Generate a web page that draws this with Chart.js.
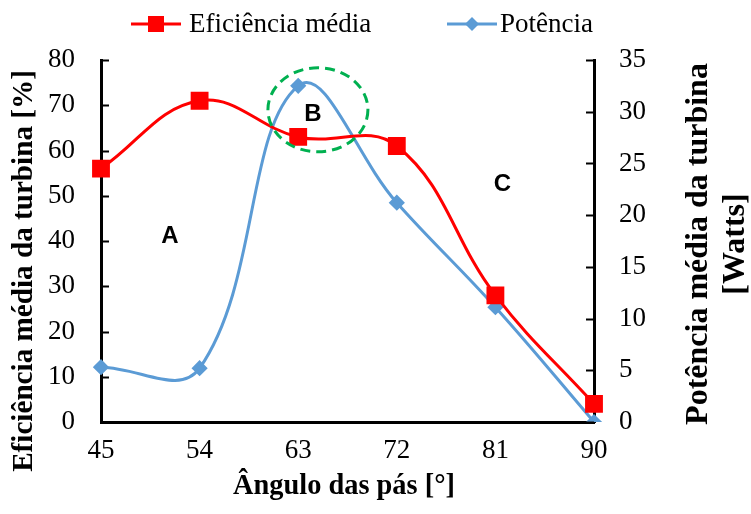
<!DOCTYPE html>
<html>
<head>
<meta charset="utf-8">
<script src="https://cdn.jsdelivr.net/npm/chart.js@4"></script>
<style>
  html, body { margin: 0; padding: 0; background: #fff; }
  canvas { display: block; }
</style>
</head>
<body>
<canvas id="chart" width="751" height="514"></canvas>
<script>
const angles = ["45", "54", "63", "72", "81", "90"];
const efficiency = [56, 71, 63, 61, 28, 4];
const power = [5.3, 5.2, 32.5, 21.2, 11.1, 0];
const seriesNames = ["Eficiência média", "Potência"];
const xTitle = "Ângulo das pás [°]";
const leftTitle = "Eficiência média da turbina [%]";
const rightTitle = ["Potência média da turbina", "[Watts]"];
const regionLabels = [
  { text: "A", x: 0.70, y: 41 },
  { text: "B", x: 2.15, y: 68 },
  { text: "C", x: 4.07, y: 52.6 }
];

const serif = "'Liberation Serif', 'Times New Roman', serif";
const red = "#ff0000";
const blue = "#5b9bd5";

// font size that makes the text about as long as in the original picture
function fitSize(ctx, text, weight, target) {
  ctx.font = weight + " 20px " + serif;
  return 20 * target / ctx.measureText(text).width;
}

// inward tick marks, axis titles, legend and the A/B/C notes
const extras = {
  id: "extras",
  afterDatasetsDraw(chart) {
    const ctx = chart.ctx;
    const area = chart.chartArea;
    const x = chart.scales.x, y = chart.scales.y, y1 = chart.scales.y1;
    ctx.save();
    ctx.strokeStyle = "#000";
    ctx.lineWidth = 2;
    y.ticks.forEach(t => {
      const py = Math.round(y.getPixelForValue(t.value)) + 0.5;
      ctx.beginPath(); ctx.moveTo(area.left, py); ctx.lineTo(area.left + 8, py); ctx.stroke();
    });
    y1.ticks.forEach(t => {
      const py = Math.round(y1.getPixelForValue(t.value)) + 0.5;
      ctx.beginPath(); ctx.moveTo(area.right, py); ctx.lineTo(area.right - 8, py); ctx.stroke();
    });

    // dashed circle around B
    ctx.strokeStyle = "#00b050";
    ctx.lineWidth = 3;
    ctx.setLineDash([10, 6]);
    ctx.beginPath();
    ctx.ellipse(x.getPixelForValue(2.2), y.getPixelForValue(69), 50, 42, 0, 0, Math.PI * 2);
    ctx.stroke();
    ctx.setLineDash([]);

    ctx.fillStyle = "#000";
    ctx.font = "bold 24px 'Liberation Sans', Arial, sans-serif";
    ctx.textAlign = "center";
    ctx.textBaseline = "middle";
    regionLabels.forEach(l => {
      ctx.fillText(l.text, x.getPixelForValue(l.x), y.getPixelForValue(l.y));
    });

    // axis titles
    let size = fitSize(ctx, xTitle, "bold", 222);
    ctx.font = "bold " + size + "px " + serif;
    ctx.fillText(xTitle, 344, 487);

    size = fitSize(ctx, leftTitle, "bold", 402);
    ctx.font = "bold " + size + "px " + serif;
    ctx.save();
    ctx.translate(24, 271);
    ctx.rotate(-Math.PI / 2);
    ctx.fillText(leftTitle, 0, 0);
    ctx.restore();

    size = fitSize(ctx, rightTitle[0], "bold", 362);
    ctx.font = "bold " + size + "px " + serif;
    ctx.save();
    ctx.translate(699, 244);
    ctx.rotate(-Math.PI / 2);
    ctx.fillText(rightTitle[0], 0, 0);
    ctx.fillText(rightTitle[1], 0, 37);
    ctx.restore();

    // legend
    ctx.font = "27px " + serif;
    ctx.textAlign = "left";
    ctx.lineWidth = 3;
    ctx.strokeStyle = red;
    ctx.beginPath(); ctx.moveTo(131, 24); ctx.lineTo(181, 24); ctx.stroke();
    ctx.fillStyle = red;
    ctx.fillRect(148, 16, 16, 16);
    ctx.fillStyle = "#000";
    ctx.fillText(seriesNames[0], 189, 25);
    ctx.strokeStyle = blue;
    ctx.beginPath(); ctx.moveTo(447, 24); ctx.lineTo(497, 24); ctx.stroke();
    ctx.fillStyle = blue;
    ctx.beginPath();
    ctx.moveTo(472, 17); ctx.lineTo(479, 24); ctx.lineTo(472, 31); ctx.lineTo(465, 24);
    ctx.closePath(); ctx.fill();
    ctx.fillStyle = "#000";
    ctx.fillText(seriesNames[1], 500, 25);
    ctx.restore();
  }
};

const tickFont = { family: serif, size: 27 };

new Chart(document.getElementById("chart"), {
  type: "line",
  data: {
    labels: angles,
    datasets: [{
      label: seriesNames[0],
      data: efficiency,
      yAxisID: "y",
      borderColor: red,
      backgroundColor: red,
      borderWidth: 3,
      tension: 0.4,
      pointStyle: "rect",
      pointRadius: 10.5,
      pointHoverRadius: 10.5
    }, {
      label: seriesNames[1],
      data: power,
      yAxisID: "y1",
      borderColor: blue,
      backgroundColor: blue,
      borderWidth: 3,
      tension: 0.4,
      pointStyle: "rectRot",
      pointRadius: 6,
      pointHoverRadius: 6
    }]
  },
  options: {
    responsive: false,
    devicePixelRatio: 1,
    animation: false,
    layout: { padding: { top: 60 } },
    plugins: {
      legend: { display: false },
      tooltip: { enabled: false }
    },
    scales: {
      x: {
        offset: false,
        grid: { display: false, drawTicks: false },
        border: { display: true, color: "#000", width: 3 },
        ticks: { color: "#000", font: tickFont, padding: 13, maxRotation: 0 },
        afterFit: s => { s.height = 92; }
      },
      y: {
        position: "left",
        min: 0, max: 80,
        grid: { display: false, drawTicks: false },
        border: { display: true, color: "#000", width: 3 },
        ticks: { stepSize: 10, color: "#000", font: tickFont, padding: 26 },
        afterFit: s => { s.width = 101; }
      },
      y1: {
        position: "right",
        min: 0, max: 35,
        grid: { display: false, drawTicks: false },
        border: { display: true, color: "#000", width: 3 },
        ticks: { stepSize: 5, color: "#000", font: tickFont, padding: 25 },
        afterFit: s => { s.width = 157; }
      }
    }
  },
  plugins: [extras]
});
</script>
</body>
</html>
